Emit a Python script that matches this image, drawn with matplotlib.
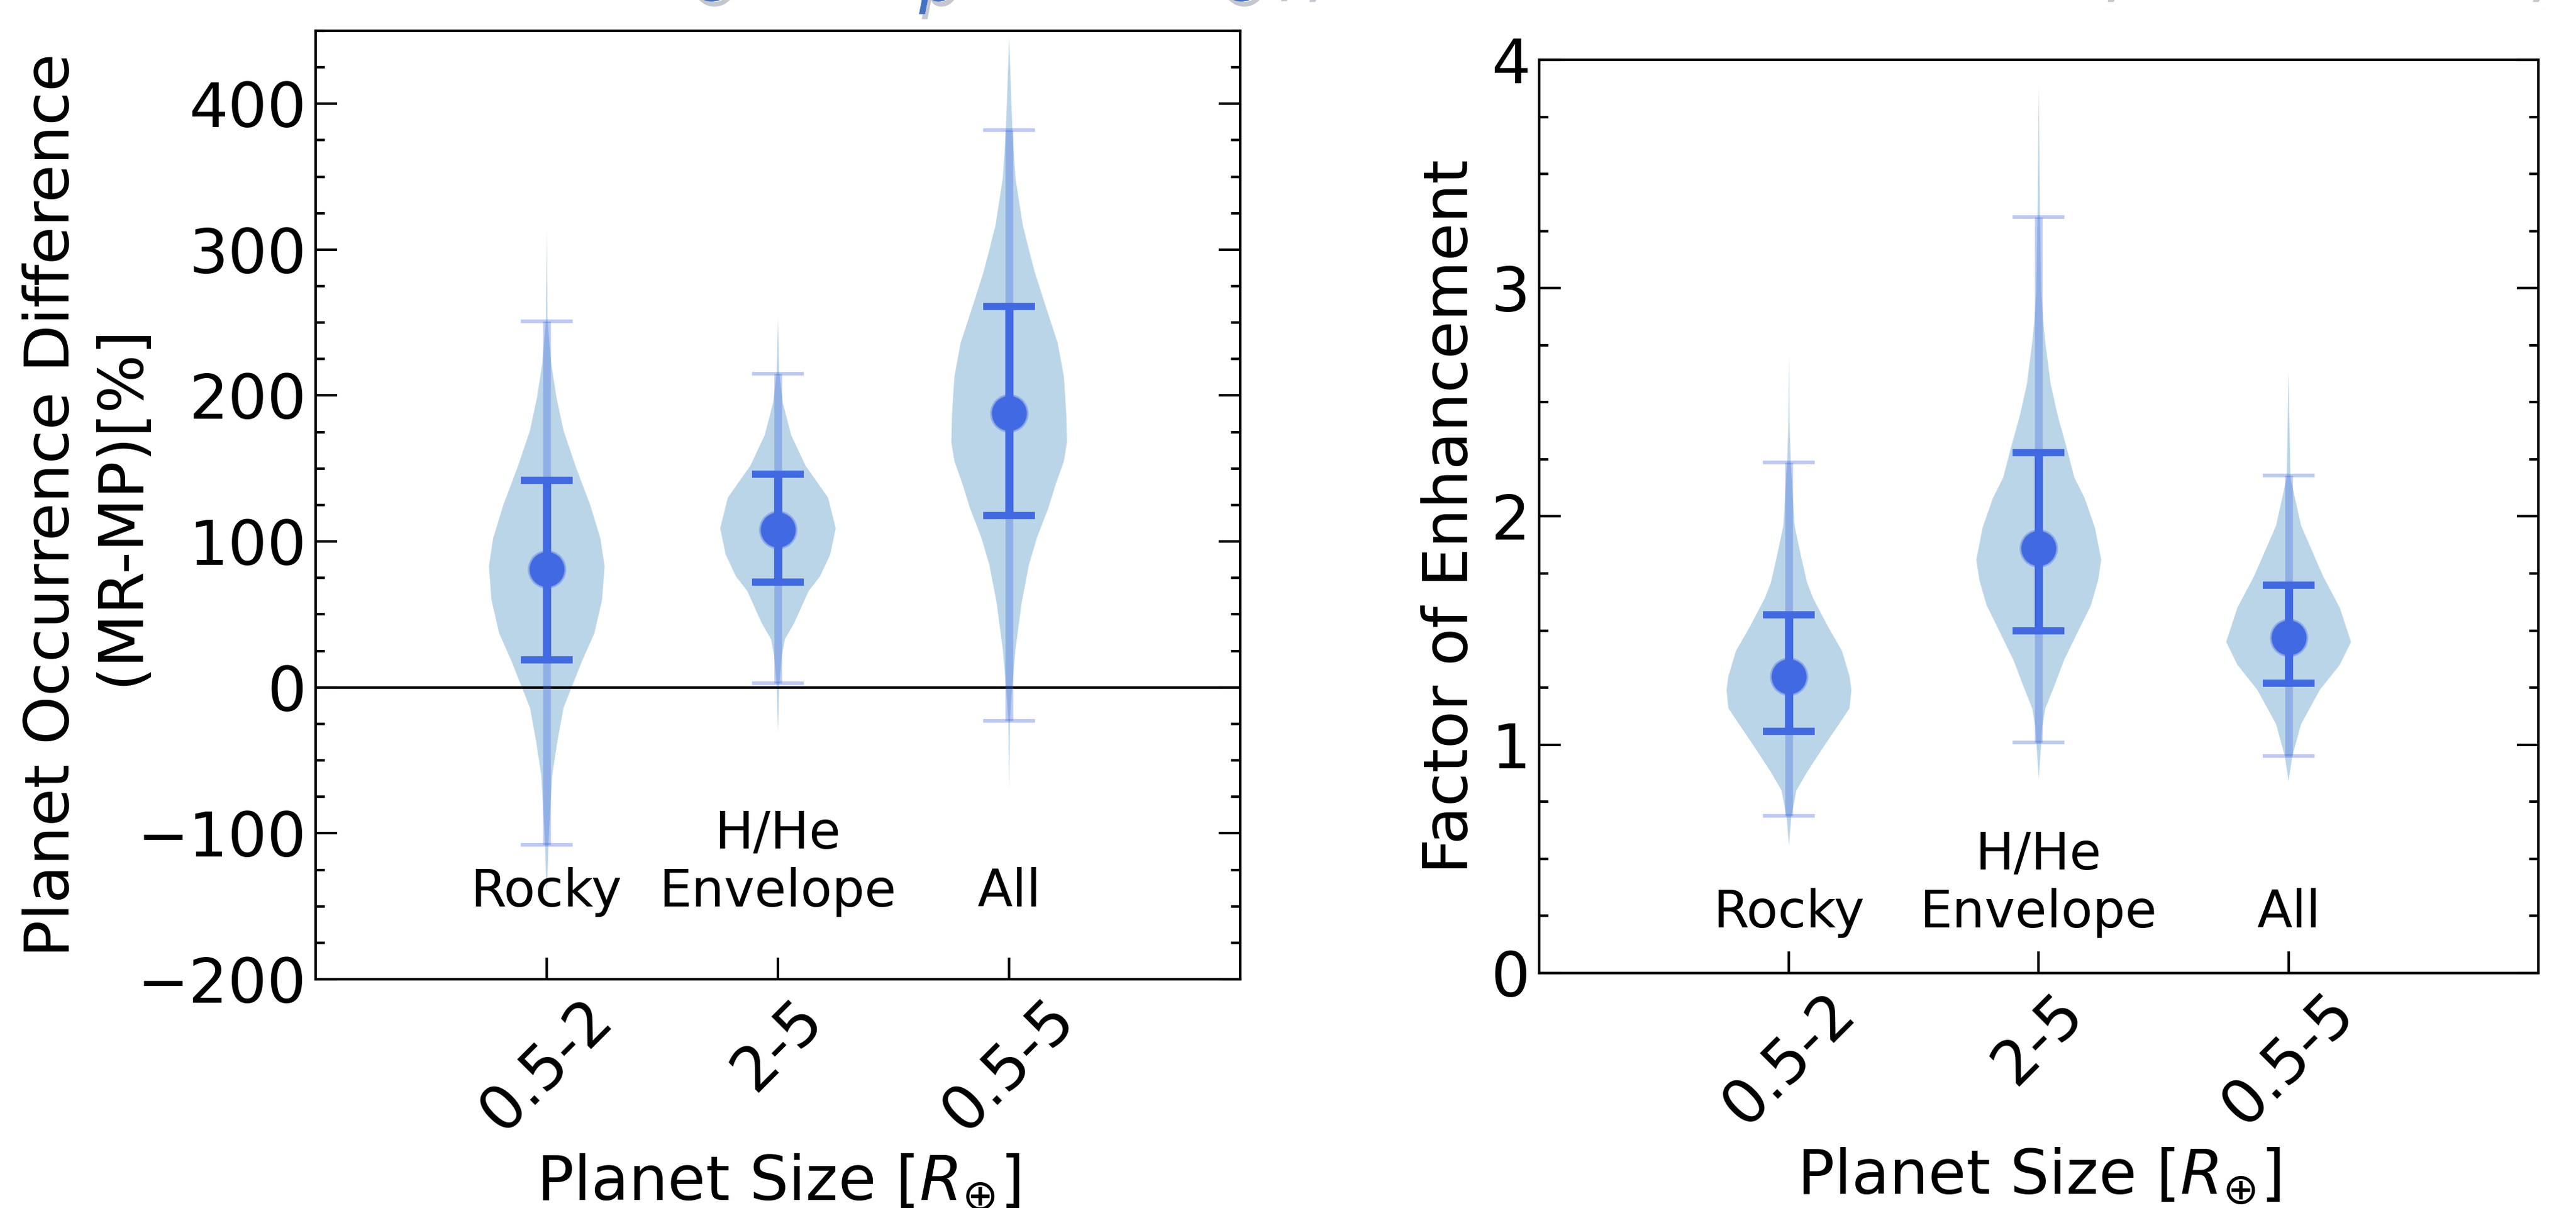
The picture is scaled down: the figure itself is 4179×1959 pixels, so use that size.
import matplotlib.pyplot as plt
import matplotlib.patheffects as pe

# categories
sizes = ["0.5-2", "2-5", "0.5-5"]
kinds = ["Rocky", "H/He\nEnvelope", "All"]

# left panel: occurrence difference (MR-MP) [%]
diff_med = [81, 108, 188]
diff_lo1 = [19, 72, 118]
diff_hi1 = [142, 146, 261]
diff_lo2 = [-108, 3, -23]
diff_hi2 = [251, 215, 382]

# violin outlines (value, relative half width)
diff_rocky_y = [314, 251, 222, 199, 176, 151, 125, 102, 83, 60, 37, 18, 2, -14, -37, -60, -102, -144]
diff_rocky_w = [0, 0.014, 0.078, 0.167, 0.291, 0.504, 0.752, 0.929, 1.0, 0.957, 0.823, 0.61, 0.45, 0.29, 0.184, 0.096, 0.035, 0]
diff_env_y = [253, 216, 195, 173, 152, 130, 109, 91, 76, 66, 55, 44, 33, 22, 1, -31]
diff_env_w = [0, 0.021, 0.085, 0.228, 0.477, 0.868, 1.0, 0.904, 0.726, 0.53, 0.406, 0.28, 0.12, 0.068, 0.021, 0]
diff_all_y = [445, 381, 349, 317, 300, 284, 262, 236, 213, 187, 168, 155, 139, 123, 103, 84, 58, 26, -7, -23, -70]
diff_all_w = [0, 0.057, 0.11, 0.235, 0.342, 0.448, 0.626, 0.84, 0.947, 0.989, 1.0, 0.947, 0.804, 0.68, 0.484, 0.342, 0.217, 0.11, 0.039, 0.014, 0]

# right panel: factor of enhancement
fac_med = [1.30, 1.86, 1.47]
fac_lo1 = [1.06, 1.50, 1.27]
fac_hi1 = [1.57, 2.28, 1.70]
fac_lo2 = [0.69, 1.01, 0.95]
fac_hi2 = [2.235, 3.31, 2.18]

fac_rocky_y = [2.70, 2.40, 2.235, 1.96, 1.83, 1.71, 1.64, 1.52, 1.41, 1.30, 1.24, 1.16, 1.11, 1.03, 0.96, 0.88, 0.80, 0.73, 0.69, 0.56]
fac_rocky_w = [0, 0.01, 0.03, 0.09, 0.19, 0.29, 0.39, 0.62, 0.85, 0.97, 1.0, 0.97, 0.85, 0.65, 0.48, 0.29, 0.12, 0.07, 0.04, 0]
fac_env_y = [3.89, 3.31, 2.98, 2.85, 2.76, 2.58, 2.44, 2.31, 2.17, 2.08, 1.95, 1.81, 1.72, 1.61, 1.50, 1.37, 1.25, 1.16, 1.08, 0.85]
fac_env_w = [0, 0.02, 0.04, 0.073, 0.106, 0.19, 0.305, 0.437, 0.57, 0.735, 0.9, 1.0, 0.95, 0.834, 0.636, 0.404, 0.238, 0.106, 0.056, 0]
fac_all_y = [2.64, 2.17, 1.96, 1.74, 1.60, 1.45, 1.35, 1.24, 1.09, 0.95, 0.84]
fac_all_w = [0, 0.03, 0.2, 0.55, 0.82, 1.0, 0.82, 0.5, 0.2, 0.06, 0]

blue = "royalblue"


def draw_panel(ax, profiles, med, lo1, hi1, lo2, hi2):
    pos = [1, 2, 3]
    stats = []
    for (ys, ws), m in zip(profiles, med):
        stats.append({"coords": ys, "vals": ws, "mean": m, "median": m,
                      "min": min(ys), "max": max(ys)})
    parts = ax.violin(stats, positions=pos, widths=0.5, showextrema=False)
    for b in parts["bodies"]:
        b.set_facecolor("#1f77b4")
        b.set_edgecolor("none")
        b.set_alpha(0.3)
    err2 = [[m - l for m, l in zip(med, lo2)], [h - m for m, h in zip(med, hi2)]]
    err1 = [[m - l for m, l in zip(med, lo1)], [h - m for m, h in zip(med, hi1)]]
    ax.errorbar(pos, med, yerr=err2, fmt="o", color=blue, ms=14, elinewidth=3,
                capsize=10, capthick=1.4, alpha=0.35, zorder=3)
    ax.errorbar(pos, med, yerr=err1, fmt="o", color=blue, ms=12.5, elinewidth=3.2,
                capsize=10, capthick=2.8, zorder=4)
    ax.set_xlim(0, 4)
    ax.set_xticks(pos)
    ax.set_xticklabels(sizes, rotation=45, fontsize=24)
    ax.set_xlabel(r"Planet Size [$R_{\oplus}$]", fontsize=24)
    ax.tick_params(axis="y", which="both", direction="in", left=True, right=True, labelsize=24)
    ax.tick_params(axis="x", which="both", direction="in", top=False, labelsize=24)
    ax.tick_params(which="major", length=8.4, width=1)
    ax.tick_params(which="minor", length=3.6, width=1)
    for s in ax.spines.values():
        s.set_linewidth(1)


fig = plt.figure(figsize=(13.93, 6.53), dpi=300)
ax1 = fig.add_axes([0.1225, 0.1894, 0.359, 0.7851])
ax2 = fig.add_axes([0.5975, 0.1945, 0.3879, 0.7560])

draw_panel(ax1, [(diff_rocky_y, diff_rocky_w), (diff_env_y, diff_env_w), (diff_all_y, diff_all_w)],
           diff_med, diff_lo1, diff_hi1, diff_lo2, diff_hi2)
ax1.axhline(0, color="black", lw=1, zorder=2)
ax1.set_ylim(-200, 450)
ax1.set_yticks([-200, -100, 0, 100, 200, 300, 400])
ax1.set_yticks(range(-200, 451, 25), minor=True)
ax1.set_ylabel("Planet Occurrence Difference\n(MR-MP)[%]", fontsize=24)
ax1.yaxis.set_label_coords(-0.178, 0.5)
for x, t in zip([1, 2, 3], kinds):
    ax1.text(x, -150, t, ha="center", va="baseline", fontsize=20, multialignment="center")

draw_panel(ax2, [(fac_rocky_y, fac_rocky_w), (fac_env_y, fac_env_w), (fac_all_y, fac_all_w)],
           fac_med, fac_lo1, fac_hi1, fac_lo2, fac_hi2)
ax2.set_ylim(0, 4)
ax2.set_yticks([0, 1, 2, 3, 4])
ax2.set_yticks([i * 0.25 for i in range(17)], minor=True)
ax2.set_ylabel("Factor of Enhancement", fontsize=24)
for x, t in zip([1, 2, 3], kinds):
    ax2.text(x, 0.2, t, ha="center", va="baseline", fontsize=20, multialignment="center")

# blue title, mostly cut off by the top edge of the image
title_kw = dict(color="#4472C4", fontsize=36, va="baseline",
                path_effects=[pe.withSimplePatchShadow(offset=(1, -2), alpha=0.25), pe.Normal()])
ty = 1.0115
fig.text(0.178, ty, "Radii ", ha="right", **title_kw)
fig.text(0.178, ty, r"$0.5\,R_{\oplus} \leq R_{p} \leq 5\,R_{\oplus}$,", ha="left", **title_kw)
fig.text(0.516, ty, "All,", ha="right", **title_kw)
fig.text(0.826, ty, "Metal-Rich Hosts,", ha="right", **title_kw)
fig.text(0.991, ty, "All Stars,", ha="right", **title_kw)

fig.savefig("out.png", dpi=300)
